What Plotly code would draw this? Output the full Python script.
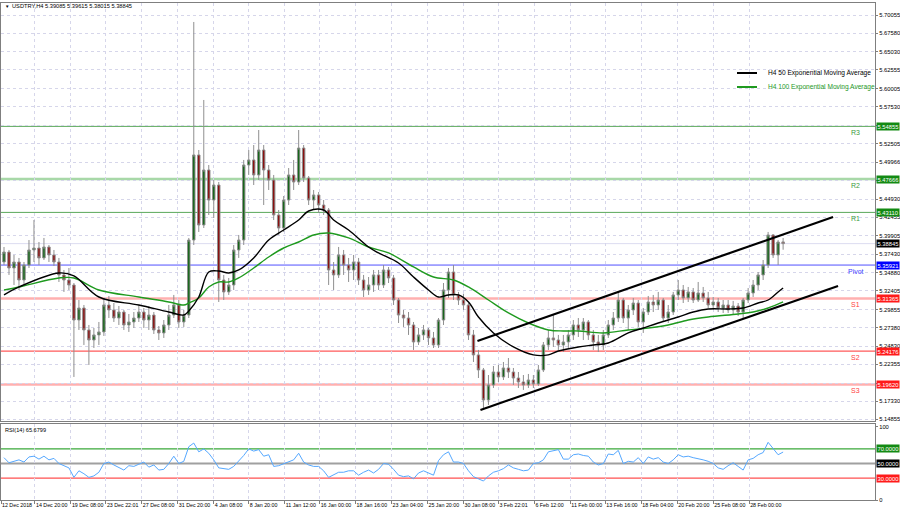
import plotly.graph_objects as go

# ---------------- data ----------------
symbol_title = "USDTRY,H4 5.39085 5.39615 5.38015 5.38845"
rsi_title = "RSI(14) 65.6799"

opens = [5.3634, 5.3770, 5.3552, 5.3634, 5.3388, 5.3593, 5.3798, 5.3825, 5.3689, 5.3839,
         5.3730, 5.3634, 5.3457, 5.3388, 5.3320, 5.2842, 5.3006, 5.2706, 5.2569, 5.2638,
         5.2679, 5.3047, 5.2979, 5.2869, 5.2951, 5.2774, 5.2815, 5.2869, 5.2951, 5.2842,
         5.2910, 5.2706, 5.2665, 5.2774, 5.2910, 5.3047, 5.2815, 5.2910, 5.3934, 5.5095,
         5.4139, 5.4890, 5.4480, 5.4685, 5.3388, 5.3225, 5.3320, 5.3798, 5.3934, 5.4958,
         5.5027, 5.4822, 5.5163, 5.4890, 5.4753, 5.4276, 5.4098, 5.4480, 5.4822, 5.4726,
         5.5190, 5.4781, 5.4480, 5.4549, 5.4412, 5.4344, 5.3525, 5.3457, 5.3730, 5.3593,
         5.3525, 5.3634, 5.3388, 5.3252, 5.3320, 5.3457, 5.3320, 5.3525, 5.3416, 5.3115,
         5.2910, 5.2869, 5.2774, 5.2542, 5.2638, 5.2706, 5.2597, 5.2501, 5.2842, 5.3252,
         5.3497, 5.3184, 5.3115, 5.3047, 5.2638, 5.2365, 5.2160, 5.1750, 5.1955, 5.2132,
         5.2064, 5.2187, 5.2132, 5.2050, 5.1996, 5.1955, 5.2023, 5.1968, 5.2160, 5.2501,
         5.2597, 5.2569, 5.2501, 5.2542, 5.2638, 5.2774, 5.2706, 5.2815, 5.2638, 5.2542,
         5.2501, 5.2638, 5.2774, 5.2869, 5.3115, 5.2869, 5.2979, 5.3074, 5.2815, 5.2951,
         5.3088, 5.3047, 5.3115, 5.2869, 5.2951, 5.3184, 5.3252, 5.3143, 5.3225, 5.3115,
         5.3211, 5.3143, 5.3047, 5.3088, 5.3006, 5.3047, 5.2979, 5.3033, 5.2951, 5.3115,
         5.3211, 5.3320, 5.3457, 5.3593, 5.4003, 5.3730, 5.39085]

highs = [5.3839, 5.3798, 5.3730, 5.3689, 5.3634, 5.3934, 5.4207, 5.3907, 5.3962, 5.3866,
         5.3798, 5.3689, 5.3525, 5.3552, 5.3347, 5.3115, 5.3047, 5.2774, 5.2733, 5.2815,
         5.3143, 5.3170, 5.3074, 5.3033, 5.2979, 5.2924, 5.2951, 5.3047, 5.3006, 5.3033,
         5.2951, 5.2760, 5.2842, 5.3047, 5.3184, 5.3115, 5.2979, 5.3962, 5.6911, 5.5163,
         5.5846, 5.4958, 5.4753, 5.4726, 5.3457, 5.3416, 5.3866, 5.4003, 5.5027, 5.5163,
         5.5231, 5.5436, 5.5231, 5.4958, 5.4822, 5.4344, 5.4535, 5.4917, 5.5027, 5.5436,
         5.5231, 5.4808, 5.4617, 5.4590, 5.4480, 5.4371, 5.3634, 5.3839, 5.3798, 5.3689,
         5.3730, 5.3689, 5.3457, 5.3429, 5.3525, 5.3525, 5.3593, 5.3566, 5.3457, 5.3143,
         5.2979, 5.2951, 5.2815, 5.2733, 5.2774, 5.2733, 5.2679, 5.2869, 5.3347, 5.3552,
         5.3593, 5.3225, 5.3197, 5.3074, 5.2706, 5.2433, 5.2187, 5.2091, 5.2214, 5.2228,
         5.2269, 5.2323, 5.2187, 5.2132, 5.2091, 5.2105, 5.2091, 5.2228, 5.2542, 5.2706,
         5.2910, 5.2638, 5.2638, 5.2706, 5.2842, 5.2869, 5.2869, 5.2842, 5.2706, 5.2638,
         5.2706, 5.2842, 5.2951, 5.3225, 5.3143, 5.3047, 5.3143, 5.3115, 5.3006, 5.3170,
         5.3184, 5.3225, 5.3143, 5.3047, 5.3225, 5.3388, 5.3320, 5.3293, 5.3279, 5.3361,
         5.3293, 5.3225, 5.3156, 5.3143, 5.3115, 5.3115, 5.3102, 5.3074, 5.3143, 5.3279,
         5.3388, 5.3497, 5.3661, 5.4044, 5.4016, 5.3934, 5.39615]

lows = [5.3593, 5.3457, 5.3320, 5.3252, 5.3334, 5.3552, 5.3634, 5.3593, 5.3661, 5.3634,
        5.3579, 5.3361, 5.3225, 5.3252, 5.2064, 5.2706, 5.2501, 5.2228, 5.2460, 5.2501,
        5.2624, 5.2869, 5.2815, 5.2774, 5.2706, 5.2679, 5.2733, 5.2815, 5.2733, 5.2706,
        5.2651, 5.2569, 5.2597, 5.2706, 5.2869, 5.2733, 5.2747, 5.2869, 5.3866, 5.4044,
        5.4098, 5.4276, 5.4235, 5.3088, 5.3115, 5.3184, 5.3252, 5.3689, 5.3866, 5.4822,
        5.4685, 5.4753, 5.4412, 5.4617, 5.4207, 5.4003, 5.4044, 5.4412, 5.4617, 5.4685,
        5.4726, 5.4412, 5.4344, 5.4303, 5.4276, 5.3320, 5.3252, 5.3416, 5.3457, 5.3361,
        5.3388, 5.3320, 5.3156, 5.3184, 5.3225, 5.3252, 5.3279, 5.3347, 5.3047, 5.2801,
        5.2747, 5.2638, 5.2433, 5.2501, 5.2569, 5.2501, 5.2460, 5.2460, 5.2774, 5.3143,
        5.3115, 5.3047, 5.2979, 5.2569, 5.2269, 5.2050, 5.1614, 5.1682, 5.1914, 5.1996,
        5.2023, 5.2050, 5.1955, 5.1914, 5.1887, 5.1914, 5.1914, 5.1941, 5.2132, 5.2433,
        5.2474, 5.2433, 5.2405, 5.2460, 5.2569, 5.2610, 5.2569, 5.2569, 5.2433, 5.2405,
        5.2433, 5.2597, 5.2706, 5.2815, 5.2801, 5.2706, 5.2910, 5.2747, 5.2665, 5.2910,
        5.2951, 5.2979, 5.2815, 5.2801, 5.2910, 5.3115, 5.3074, 5.3088, 5.3074, 5.3088,
        5.3088, 5.3006, 5.2979, 5.2951, 5.2938, 5.2938, 5.2924, 5.2897, 5.2869, 5.3074,
        5.3156, 5.3252, 5.3388, 5.3552, 5.3689, 5.3593, 5.38015]

closes = [5.3770, 5.3552, 5.3634, 5.3388, 5.3593, 5.3798, 5.3825, 5.3689, 5.3839, 5.3730,
          5.3634, 5.3457, 5.3388, 5.3320, 5.2842, 5.3006, 5.2706, 5.2569, 5.2638, 5.2679,
          5.3047, 5.2979, 5.2869, 5.2951, 5.2774, 5.2815, 5.2869, 5.2951, 5.2842, 5.2910,
          5.2706, 5.2665, 5.2774, 5.2910, 5.3047, 5.2815, 5.2910, 5.3934, 5.5095, 5.4139,
          5.4890, 5.4480, 5.4685, 5.3388, 5.3225, 5.3320, 5.3798, 5.3934, 5.4958, 5.5027,
          5.4822, 5.5163, 5.4890, 5.4753, 5.4276, 5.4098, 5.4480, 5.4822, 5.4726, 5.5190,
          5.4781, 5.4480, 5.4549, 5.4412, 5.4344, 5.3525, 5.3457, 5.3730, 5.3593, 5.3525,
          5.3634, 5.3388, 5.3252, 5.3320, 5.3457, 5.3320, 5.3525, 5.3416, 5.3115, 5.2910,
          5.2869, 5.2774, 5.2542, 5.2638, 5.2706, 5.2597, 5.2501, 5.2842, 5.3252, 5.3497,
          5.3184, 5.3115, 5.3047, 5.2638, 5.2365, 5.2160, 5.1750, 5.1955, 5.2132, 5.2064,
          5.2187, 5.2132, 5.2050, 5.1996, 5.1955, 5.2023, 5.1968, 5.2160, 5.2501, 5.2597,
          5.2569, 5.2501, 5.2542, 5.2638, 5.2774, 5.2706, 5.2815, 5.2638, 5.2542, 5.2501,
          5.2638, 5.2774, 5.2869, 5.3115, 5.2869, 5.2979, 5.3074, 5.2815, 5.2951, 5.3088,
          5.3047, 5.3115, 5.2869, 5.2951, 5.3184, 5.3252, 5.3143, 5.3225, 5.3115, 5.3211,
          5.3143, 5.3047, 5.3088, 5.3006, 5.3047, 5.2979, 5.3033, 5.2951, 5.3115, 5.3211,
          5.3320, 5.3457, 5.3593, 5.4003, 5.3730, 5.3907, 5.38845]

bars = list(range(len(closes)))

ema50_bars = [0, 3, 11, 14, 19, 27, 33, 36, 37, 39, 41, 43, 45, 47, 50, 53, 56, 59, 61, 64,
              66, 69, 73, 75, 79, 82, 85, 87, 89, 91, 93, 95, 98, 102, 106, 109, 111, 115, 118, 121,
              125, 128, 131, 135, 138, 141, 145, 148, 151, 153, 155, 156]
ema50_vals = [5.3184, 5.3293, 5.3484, 5.3443, 5.3156, 5.3047, 5.2951, 5.2910, 5.2965, 5.3156,
              5.3497, 5.3511, 5.3484, 5.3525, 5.3689, 5.3934, 5.4071, 5.4207, 5.4330, 5.4344,
              5.4207, 5.4071, 5.3839, 5.3757, 5.3620, 5.3429, 5.3252, 5.3156, 5.3184, 5.3184,
              5.3088, 5.2883, 5.2665, 5.2474, 5.2365, 5.2365, 5.2419, 5.2474, 5.2501, 5.2528,
              5.2665, 5.2733, 5.2801, 5.2883, 5.2951, 5.2992, 5.2992, 5.3006, 5.3074, 5.3115,
              5.3225, 5.3279]

ema100_bars = [0, 3, 11, 14, 19, 27, 33, 36, 37, 39, 41, 43, 45, 47, 50, 53, 56, 59, 62, 65,
               69, 73, 77, 82, 86, 90, 93, 97, 101, 105, 109, 112, 115, 120, 125, 129, 133, 137, 141, 147,
               150, 153, 156]
ema100_vals = [5.3252, 5.3293, 5.3416, 5.3416, 5.3252, 5.3156, 5.3088, 5.3047, 5.3074, 5.3143,
               5.3293, 5.3361, 5.3361, 5.3416, 5.3552, 5.3702, 5.3825, 5.3907, 5.4003, 5.4030,
               5.3962, 5.3839, 5.3757, 5.3566, 5.3429, 5.3388, 5.3293, 5.3115, 5.2938, 5.2801,
               5.2706, 5.2692, 5.2692, 5.2665, 5.2706, 5.2733, 5.2774, 5.2842, 5.2883, 5.2924,
               5.2951, 5.3006, 5.3088]

rsi_vals = [58, 51, 53, 55, 52, 59, 60, 56, 60, 55,
            57, 50, 47, 44, 31, 40, 36, 31, 33, 38,
            50, 52, 48, 44, 41, 47, 46, 49, 52, 45,
            48, 41, 42, 50, 60, 50, 53, 73, 78, 66,
            70, 64, 55, 44, 43, 42, 46, 53, 61, 70,
            67, 69, 60, 62, 46, 47, 50, 53, 55, 64,
            52, 48, 46, 46, 40, 31, 35, 38, 38, 40,
            40, 34, 38, 41, 37, 42, 50, 49, 42, 34,
            32, 33, 29, 37, 40, 37, 34, 54, 62, 66,
            52, 52, 50, 40, 32, 29, 26, 33, 38, 40,
            43, 48, 44, 42, 40, 41, 50, 51, 55, 66,
            68, 69, 56, 56, 62, 63, 61, 60, 52, 48,
            50, 63, 62, 68, 50, 53, 52, 58, 50, 59,
            56, 58, 52, 50, 55, 62, 59, 60, 58, 57,
            55, 53, 50, 44, 42, 47, 51, 46, 41, 55,
            57, 62, 65, 79, 70, 62, 65.6799]

level_names = ["R3", "R2", "R1", "Pivot", "S1", "S2", "S3"]
level_vals = [5.54855, 5.47666, 5.43110, 5.35921, 5.31365, 5.24176, 5.19620]
level_line_colors = ["#5aa85a", "#a8d8a8", "#5aa85a", "#5050ff", "#ffb0b0", "#ff5a5a", "#ffb0b0"]
level_line_widths = [1, 2.5, 1, 1, 2.5, 1.2, 2.5]
level_text_colors = ["#3a9a3a", "#3a9a3a", "#3a9a3a", "#4040ff", "#ff4040", "#ff4040", "#ff4040"]
level_box_colors = ["#138a13", "#138a13", "#138a13", "#0000ff", "#ff1a1a", "#ff1a1a", "#ff1a1a"]
current_price = 5.38845

channel_upper_bars = [94.8, 166.0]
channel_upper_vals = [5.2555, 5.4248]
channel_lower_bars = [95.4, 167.0]
channel_lower_vals = [5.1614, 5.3306]

price_ticks = [5.70055, 5.67580, 5.65030, 5.62555, 5.60005, 5.57530, 5.55005, 5.52505, 5.49966,
               5.47455, 5.44930, 5.42455, 5.39905, 5.37430, 5.34880, 5.32405, 5.29855, 5.27380,
               5.24830, 5.22355, 5.19805, 5.17330, 5.14855]
price_tick_text = ["5.70055", "5.67580", "5.65030", "5.62555", "5.60005", "5.57530", "", "5.52505",
                   "5.49966", "", "5.44930", "5.42455", "5.39905", "5.37430", "5.34880", "5.32405",
                   "5.29855", "5.27380", "5.24830", "5.22355", "", "5.17330", "5.14855"]

time_tick_bars = [-0.6, 6.2, 13.4, 20.4, 27.6, 34.8, 42.0, 49.0, 56.2, 63.2, 70.4,
                  77.6, 84.8, 92.0, 99.0, 106.2, 113.4, 120.4, 127.6, 134.8, 142.0, 149.2]
time_tick_labels = ["12 Dec 2018", "14 Dec 20:00", "19 Dec 08:00", "23 Dec 22:01", "27 Dec 08:00",
                    "31 Dec 20:00", "4 Jan 08:00", "8 Jan 20:00", "11 Jan 12:00", "16 Jan 00:00",
                    "18 Jan 16:00", "23 Jan 04:00", "25 Jan 20:00", "30 Jan 08:00", "3 Feb 22:01",
                    "6 Feb 12:00", "11 Feb 00:00", "13 Feb 16:00", "18 Feb 04:00", "20 Feb 20:00",
                    "25 Feb 08:00", "28 Feb 00:00"]

rsi_levels = [70, 50, 30]
rsi_level_colors = ["#3aa83a", "#a0a0a0", "#ff5050"]
rsi_level_box = ["#138a13", "#000000", "#ff1a1a"]
rsi_level_text = ["70.0000", "50.0000", "30.0000"]

legend_names = ["H4 50 Exponential Moving Average", "H4 100 Exponential Moving Average"]
legend_colors = ["#000000", "#1f9a1f"]

# ---------------- layout geometry (pixels) ----------------
W, H = 900, 514
ML, MR, MT, MB = 1, 25, 3, 14
PW, PH = W - ML - MR, H - MT - MB


def px_x(x):
    return (x - ML) / PW


def px_y(y):
    return (H - MB - y) / PH


FONT = "Liberation Sans, Arial, sans-serif"
AX = 5.8     # price-axis label size
TX = 5.3     # time-axis size

fig = go.Figure()

fig.add_trace(go.Candlestick(
    x=bars, open=opens, high=highs, low=lows, close=closes,
    increasing=dict(line=dict(color="#8f8f8f", width=1), fillcolor="#17661a"),
    decreasing=dict(line=dict(color="#8f8f8f", width=1), fillcolor="#8a1010"),
    whiskerwidth=0, showlegend=False, hoverinfo="skip", xaxis="x", yaxis="y"))

fig.add_trace(go.Scatter(x=ema100_bars, y=ema100_vals, mode="lines",
                         line=dict(color=legend_colors[1], width=1.4, shape="spline"),
                         showlegend=False, hoverinfo="skip", xaxis="x", yaxis="y"))
fig.add_trace(go.Scatter(x=ema50_bars, y=ema50_vals, mode="lines",
                         line=dict(color=legend_colors[0], width=1.4, shape="spline"),
                         showlegend=False, hoverinfo="skip", xaxis="x", yaxis="y"))

fig.add_trace(go.Scatter(x=channel_upper_bars, y=channel_upper_vals, mode="lines",
                         line=dict(color="black", width=2.2), showlegend=False,
                         hoverinfo="skip", xaxis="x", yaxis="y"))
fig.add_trace(go.Scatter(x=channel_lower_bars, y=channel_lower_vals, mode="lines",
                         line=dict(color="black", width=2.2), showlegend=False,
                         hoverinfo="skip", xaxis="x", yaxis="y"))

fig.add_trace(go.Scatter(x=bars, y=rsi_vals, mode="lines",
                         line=dict(color="#55a8ff", width=1), showlegend=False,
                         hoverinfo="skip", xaxis="x2", yaxis="y2"))

shapes = []
annotations = []

# current price (bid) line
shapes.append(dict(type="line", xref="paper", x0=0, x1=1, yref="y", y0=current_price,
                   y1=current_price, line=dict(color="#dcdcf0", width=1), layer="between"))

for name, val, lc, lw, tc, bc in zip(level_names, level_vals, level_line_colors,
                                      level_line_widths, level_text_colors, level_box_colors):
    shapes.append(dict(type="line", xref="paper", x0=0, x1=1, yref="y", y0=val, y1=val,
                       line=dict(color=lc, width=lw), layer="between"))
    annotations.append(dict(x=170.5, y=val, xref="x", yref="y", text=name, showarrow=False,
                            xanchor="center", yanchor="top", yshift=-1,
                            font=dict(family=FONT, size=7, color=tc)))
    annotations.append(dict(x=1, y=val, xref="paper", yref="y", text=f"{val:.5f}",
                            showarrow=False, xanchor="left", yanchor="middle", xshift=1,
                            bgcolor=bc, borderpad=0.5,
                            font=dict(family=FONT, size=AX, color="white")))

annotations.append(dict(x=1, y=current_price, xref="paper", yref="y", text=f"{current_price:.5f}",
                        showarrow=False, xanchor="left", yanchor="middle", xshift=1,
                        bgcolor="black", borderpad=0.5,
                        font=dict(family=FONT, size=AX, color="white")))

for lvl, lc, bc, txt in zip(rsi_levels, rsi_level_colors, rsi_level_box, rsi_level_text):
    shapes.append(dict(type="line", xref="paper", x0=0, x1=1, yref="y2", y0=lvl, y1=lvl,
                       line=dict(color=lc, width=2 if lvl == 50 else 1.2), layer="between"))
    annotations.append(dict(x=1, y=lvl, xref="paper", yref="y2", text=txt, showarrow=False,
                            xanchor="left", yanchor="middle", xshift=1, bgcolor=bc, borderpad=0.5,
                            font=dict(family=FONT, size=AX, color="white")))

# legend drawn manually
for k, (nm, col) in enumerate(zip(legend_names, legend_colors)):
    yy = px_y(73 + 14 * k)
    shapes.append(dict(type="line", xref="paper", yref="paper", x0=px_x(737), x1=px_x(757),
                       y0=yy, y1=yy, line=dict(color=col, width=2)))
    annotations.append(dict(x=px_x(766), y=yy, xref="paper", yref="paper", text=nm,
                            showarrow=False, xanchor="left", yanchor="middle",
                            font=dict(family=FONT, size=6.6, color=col)))

annotations.append(dict(x=px_x(3), y=px_y(6), xref="paper", yref="paper", text="▼",
                        showarrow=False, xanchor="left", yanchor="middle",
                        font=dict(family=FONT, size=4.5, color="black")))
annotations.append(dict(x=px_x(10), y=px_y(6), xref="paper", yref="paper", text=symbol_title,
                        showarrow=False, xanchor="left", yanchor="middle",
                        font=dict(family=FONT, size=5.7, color="black")))
annotations.append(dict(x=px_x(3), y=px_y(430), xref="paper", yref="paper", text=rsi_title,
                        showarrow=False, xanchor="left", yanchor="middle",
                        font=dict(family=FONT, size=5.6, color="black")))

price_top = 5.7170
price_bottom = 5.1463
main_dom = [px_y(421), 1]
rsi_dom = [0, px_y(424)]

grid_col = "#d6d6ea"
frame_col = "#7f7f7f"

fig.update_layout(
    width=W, height=H,
    margin=dict(l=ML, r=MR, t=MT, b=MB, pad=0, autoexpand=False),
    paper_bgcolor="white", plot_bgcolor="white",
    showlegend=False,
    font=dict(family=FONT, size=TX, color="black"),
    xaxis=dict(domain=[0, 1], anchor="y", range=[-0.6, 174.4], tickvals=time_tick_bars,
               showticklabels=False, ticks="", showgrid=True, gridcolor=grid_col, griddash="dot",
               gridwidth=1, zeroline=False, showline=True, mirror=True, linecolor=frame_col,
               linewidth=1, rangeslider=dict(visible=False), fixedrange=True, automargin=False),
    yaxis=dict(domain=main_dom, anchor="x", range=[price_bottom, price_top], side="right",
               tickvals=price_ticks, ticktext=price_tick_text, ticks="outside", ticklen=2,
               tickcolor=frame_col, tickfont=dict(family=FONT, size=AX, color="black"),
               showgrid=True, gridcolor=grid_col, griddash="dot", zeroline=False,
               showline=True, mirror=True, linecolor=frame_col, linewidth=1, automargin=False),
    xaxis2=dict(domain=[0, 1], anchor="y2", matches="x", range=[-0.6, 174.4],
                tickvals=time_tick_bars, ticktext=time_tick_labels, ticks="outside", ticklen=3,
                tickcolor=frame_col, ticklabelposition="outside right", tickangle=0,
                tickfont=dict(family=FONT, size=TX, color="black"),
                showgrid=True, gridcolor=grid_col, griddash="dot", zeroline=False,
                showline=True, mirror=True, linecolor=frame_col, linewidth=1, automargin=False),
    yaxis2=dict(domain=rsi_dom, anchor="x2", range=[0, 104.1], side="right",
                tickvals=[0, 100], ticktext=["0", "100"], ticks="outside", ticklen=2,
                tickcolor=frame_col, tickfont=dict(family=FONT, size=AX, color="black"),
                showgrid=False, zeroline=False, showline=True, mirror=True,
                linecolor=frame_col, linewidth=1, automargin=False),
    shapes=shapes,
    annotations=annotations,
)

fig.write_html("out.html",
               config={"displayModeBar": False, "staticPlot": True},
               post_script="document.body.style.margin='0';document.body.style.padding='0';")
